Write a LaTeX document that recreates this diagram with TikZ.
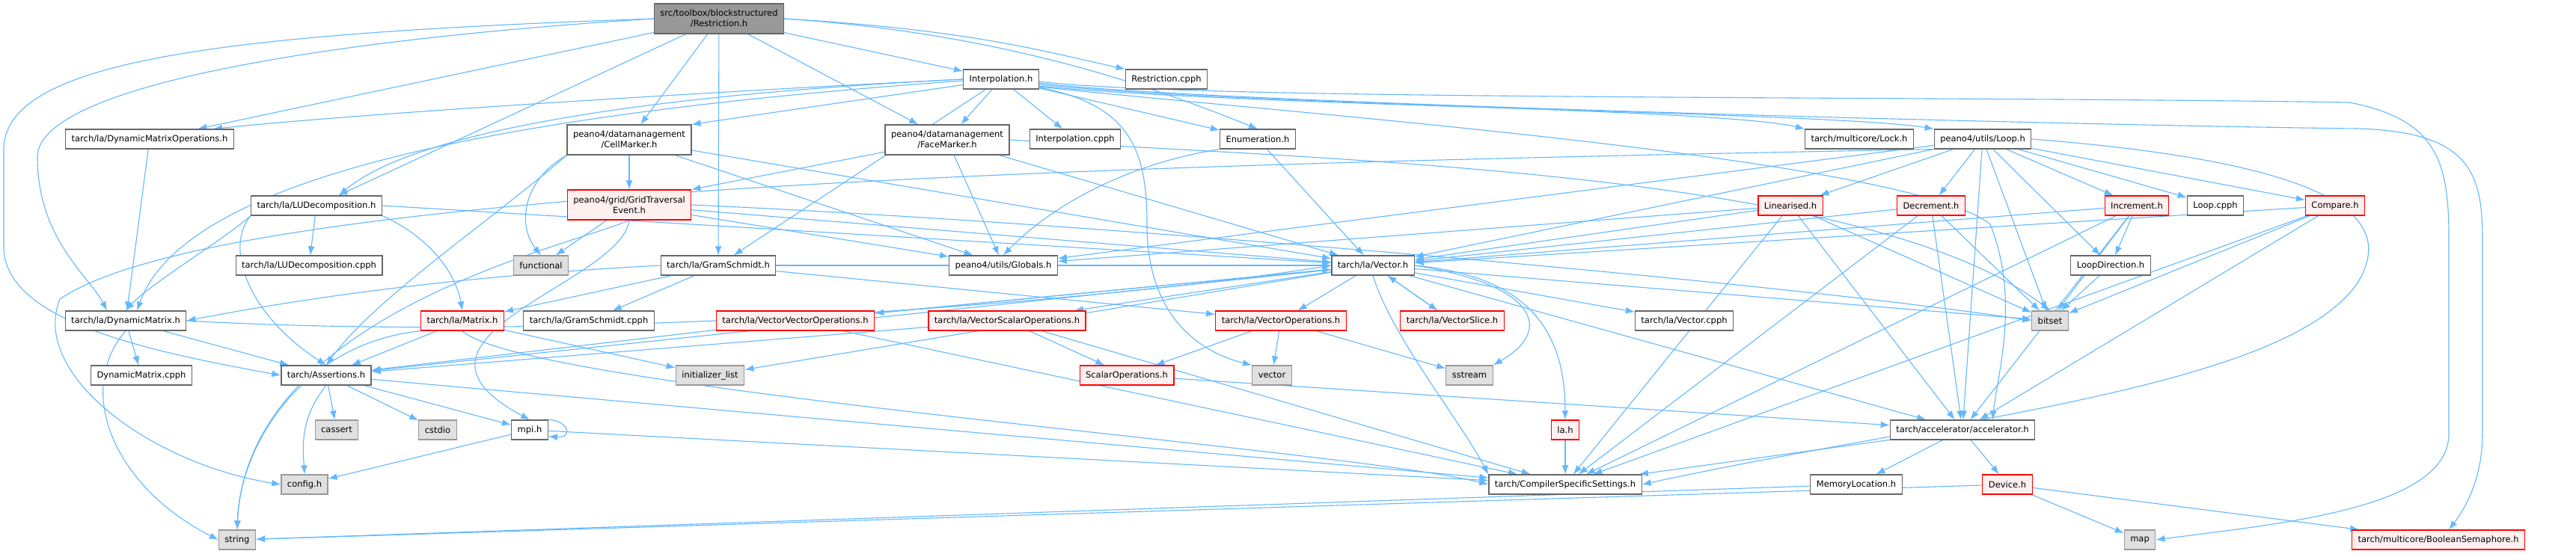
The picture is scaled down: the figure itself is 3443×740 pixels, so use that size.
\documentclass[tikz,border=0pt]{standalone}
\usepackage{fontspec}
\setmainfont{DejaVu Sans}
\usetikzlibrary{arrows.meta,calc}
\definecolor{edgeblue}{HTML}{63B8FF}
\definecolor{nodegray}{HTML}{666666}
\definecolor{redfill}{HTML}{FFF0F0}
\definecolor{sysfill}{HTML}{E0E0E0}
\definecolor{sysdraw}{HTML}{999999}
\definecolor{rootfill}{HTML}{999999}
\pgfdeclarelayer{back}\pgfdeclarelayer{bg}\pgfsetlayers{back,bg,main}
\begin{document}
\begin{tikzpicture}[x=1pt,y=-1pt,
 box/.style={draw=nodegray, fill=white, rectangle, line width=1.2pt, minimum height=26pt, inner xsep=8pt, inner ysep=0pt, font=\fontsize{11.5}{14}\selectfont, align=center},
 hbox/.style={box, draw=red, fill=redfill},
 sbox/.style={box, draw=sysdraw, fill=sysfill},
 tbox/.style={box, minimum height=40pt},
 e/.style={draw=edgeblue, line width=1.1pt, -{Latex[length=12pt,width=9pt]}}
]
\useasboundingbox (0,0) rectangle (3443,740);
\begin{pgfonlayer}{back}
\fill[white] (0,0) rectangle (3443,740);
\end{pgfonlayer}
% nodes
\node[tbox, fill=rootfill] (root) at (961,25) {src/toolbox/blockstructured\\/Restriction.h};
\node[box] (interp) at (1338,106) {Interpolation.h};
\node[box] (rcpph) at (1559,106) {Restriction.cpph};
\node[box] (dmo) at (200,186) {tarch/la/DynamicMatrixOperations.h};
\node[tbox] (cell) at (841,187) {peano4/datamanagement\\/CellMarker.h};
\node[tbox] (face) at (1266,187) {peano4/datamanagement\\/FaceMarker.h};
\node[box] (icpph) at (1437,186) {Interpolation.cpph};
\node[box] (enum) at (1681,186) {Enumeration.h};
\node[box] (lock) at (2485,186) {tarch/multicore/Lock.h};
\node[box] (loop) at (2650,186) {peano4/utils/Loop.h};
\node[box] (lud) at (423,275) {tarch/la/LUDecomposition.h};
\node[tbox, draw=red, fill=redfill] (gte) at (841,274) {peano4/grid/GridTraversal\\Event.h};
\node[hbox] (lin) at (2393,275) {Linearised.h};
\node[hbox] (dec) at (2581,275) {Decrement.h};
\node[hbox] (inc) at (2856,275) {Increment.h};
\node[box] (lcpph) at (2961,275) {Loop.cpph};
\node[hbox] (cmp) at (3121,275) {Compare.h};
\node[box] (ludc) at (413,355) {tarch/la/LUDecomposition.cpph};
\node[sbox] (func) at (723,355) {functional};
\node[box] (gs) at (960,355) {tarch/la/GramSchmidt.h};
\node[box] (glob) at (1341,355) {peano4/utils/Globals.h};
\node[box] (vec) at (1835,355) {tarch/la/Vector.h};
\node[box] (ldir) at (2821,355) {LoopDirection.h};
\node[box] (dm) at (168,429) {tarch/la/DynamicMatrix.h};
\node[hbox] (mat) at (618,429) {tarch/la/Matrix.h};
\node[box] (gsc) at (787,429) {tarch/la/GramSchmidt.cpph};
\node[hbox] (vvo) at (1063,429) {tarch/la/VectorVectorOperations.h};
\node[hbox] (vso) at (1346,429) {tarch/la/VectorScalarOperations.h};
\node[hbox] (vo) at (1712,429) {tarch/la/VectorOperations.h};
\node[hbox] (vsl) at (1941,429) {tarch/la/VectorSlice.h};
\node[box] (vcpph) at (2251,429) {tarch/la/Vector.cpph};
\node[sbox] (bitset) at (2740,429) {bitset};
\node[box] (dmc) at (189,502) {DynamicMatrix.cpph};
\node[box] (assert) at (436,502) {tarch/Assertions.h};
\node[sbox] (init) at (949,502) {initializer\_list};
\node[hbox] (sops) at (1506,502) {ScalarOperations.h};
\node[sbox] (vector) at (1700,502) {vector};
\node[sbox] (sstream) at (1964,502) {sstream};
\node[sbox] (cassert) at (450,575) {cassert};
\node[sbox] (cstdio) at (585,575) {cstdio};
\node[box] (mpi) at (708,575) {mpi.h};
\node[hbox] (la) at (2092,575) {la.h};
\node[box] (acc) at (2623,575) {tarch/accelerator/accelerator.h};
\node[sbox] (config) at (407,648) {config.h};
\node[box] (css) at (2092,648) {tarch/CompilerSpecificSettings.h};
\node[box] (memloc) at (2481,648) {MemoryLocation.h};
\node[hbox] (dev) at (2683,648) {Device.h};
\node[sbox] (string) at (317,722) {string};
\node[sbox] (map) at (2860,722) {map};
\node[hbox] (bsem) at (3259,722) {tarch/multicore/BooleanSemaphore.h};
\begin{pgfonlayer}{bg}
% root
\draw[e] (root) -- (interp);
\draw[e] (root.east) .. controls (1300,40) and (1400,70) .. (rcpph.north west);
\draw[e] (root.east) .. controls (1350,45) and (1550,120) .. (enum.north);
\draw[e] (root) -- (face);
\draw[e] (root) -- (cell);
\draw[e] (root) -- (gs);
\draw[e] (root) -- (lud);
\draw[e] (root) -- (dmo);
\draw[e] (root.west) .. controls (400,55) and (50,120) .. (50,210) .. controls (50,320) and (120,370) .. ($(dm.north)+(-25,0)$);
\draw[e] (root.west) .. controls (300,45) and (5,80) .. (5,200) -- (5,330) .. controls (5,430) and (200,470) .. (assert.west);
% interp
\draw[e] (interp.west) .. controls (1000,120) and (500,150) .. ($(dmo.north)+(85,0)$);
\draw[e] (interp.west) .. controls (900,125) and (560,170) .. ($(lud.north)+(30,0)$);
\draw[e] (interp) -- (cell.north east);
\draw[e] (interp) -- (face);
\draw[e] (interp) -- (icpph);
\draw[e] (interp) -- (enum);
\draw[e] (interp) -- (gs);
\draw[e] ([yshift=-7pt]interp.east) .. controls (1650,140) and (2300,145) .. (lock.north west);
\draw[e] ([yshift=-9pt]interp.east) .. controls (1650,142) and (2450,150) .. (loop.north west);
\draw[e] ([yshift=-2pt]interp.west) .. controls (700,150) and (250,230) .. ($(dm.north)+(15,0)$);
\draw[e] ([yshift=-11pt]interp.east) .. controls (1510,140) and (1533,200) .. (1533,300) .. controls (1533,420) and (1600,470) .. (vector.north west);
\draw[e] ([yshift=-3pt]interp.east) .. controls (1600,135) and (2600,128) .. (3140,137) .. controls (3260,160) and (3273,220) .. (3273,320) -- (3273,580) .. controls (3273,680) and (3050,700) .. (map.east);
\draw[e] ([yshift=-5pt]interp.east) .. controls (1600,138) and (2800,168) .. (3150,172) .. controls (3300,176) and (3318,230) .. (3318,320) -- (3318,580) .. controls (3318,640) and (3295,680) .. ($(bsem.north)+(14,0)$);
\draw[e] ([yshift=-10pt]interp.east) .. controls (1700,150) and (2550,210) .. (2660,300) .. controls (2700,400) and (2670,500) .. ($(acc.north)+(40,0)$);
% cell
\draw[e] (cell) -- (gte);
\draw[e] (cell.south west) .. controls (700,240) and (690,300) .. (func.north);
\draw[e] (cell) -- (vec);
\draw[e] (cell) -- (glob);
\draw[e] (cell.south west) .. controls (650,300) and (500,400) .. (assert.north);
% face
\draw[e] (face) -- (gte.north east);
\draw[e] (face) -- (glob);
\draw[e] (face) -- (vec);
\draw[e] (face.east) .. controls (1800,215) and (2500,230) .. (bitset.north);
% gte
\draw[e] (gte) -- (func);
\draw[e] (gte) -- (vec);
\draw[e] (gte) -- (glob);
\draw[e] (gte.east) .. controls (1500,300) and (2400,380) .. (bitset.west);
\draw[e] (gte.south) .. controls (830,380) and (500,450) .. (mpi.north);
\draw[e] (gte.south) .. controls (760,330) and (330,420) .. (string.north);
% enum
\draw[e] (enum.south west) .. controls (1500,220) and (1400,280) .. (glob.north);
\draw[e] (enum) -- (vec);
% lud
\draw[e] (lud) -- (ludc);
\draw[e] (lud.south east) .. controls (580,320) and (610,370) .. (mat.north);
\draw[e] (lud.south west) .. controls (300,320) and (200,380) .. (dm.north);
\draw[e] (lud.east) -- (vec);
\draw[e] (lud.south west) .. controls (300,330) and (330,420) .. (assert.north);
% gs
\draw[e] (gs) -- (gsc);
\draw[e] (gs) -- (mat);
\draw[e] (gs.west) .. controls (600,370) and (400,400) .. (dm.east);
\draw[e] (gs) -- (vec);
\draw[e] (gs) -- (vo);
% dmo
\draw[e] (dmo) -- (dm);
% dm
\draw[e] (dm) -- (dmc);
\draw[e] (dm) -- (assert);
\draw[e] (dm.south) .. controls (100,520) and (150,650) .. (string.west);
\draw[e] (dm.east) .. controls (800,460) and (1500,400) .. (vec.west);
% mat
\draw[e] (mat) -- (init);
\draw[e] (mat.south) .. controls (700,520) and (1800,600) .. (css.west);
\draw[e] (mat.south west) .. controls (400,460) and (320,600) .. (string.north);
\draw[e] (mat) -- (assert);
% vec
\draw[e] (vec) -- (vo);
\draw[e] (vec) -- (vso);
\draw[e] (vec) -- (vvo);
\draw[e] (vec) -- (vsl);
\draw[e] (vec) -- (vcpph);
\draw[e] (vec.east) .. controls (2050,380) and (2080,440) .. (sstream.north east);
\draw[e] (vec.east) .. controls (2050,370) and (2092,450) .. (la.north);
\draw[e] (vec.south) .. controls (1860,450) and (1950,560) .. (css.north west);
\draw[e] (vec) -- (bitset);
\draw[e] (vec) -- (init);
\draw[e] (vec) -- (assert);
\draw[e] (vec) -- (acc);
% vector ops
\draw[e] (vvo) -- (vec);
\draw[e] (vvo) -- (css);
\draw[e] (vvo) -- (assert);
\draw[e] (vso) -- (sops);
\draw[e] (vso) -- (css);
\draw[e] (vso) -- (assert);
\draw[e] (vo) -- (sops);
\draw[e] (vo) -- (vector);
\draw[e] (vo) -- (sstream);
\draw[e] (vsl) -- (vec);
\draw[e] (sops) -- (acc);
\draw[e] (la) -- (css);
% assertions
\draw[e] (assert) -- (cassert);
\draw[e] (assert) -- (cstdio);
\draw[e] (assert.south) .. controls (400,560) and (405,600) .. (config.north);
\draw[e] (assert) -- (mpi);
\draw[e] (assert) -- (css);
% mpi
\draw[e] ([xshift=-8pt]mpi.north east) .. controls +(35,-3) and +(35,3) .. ([yshift=5pt]mpi.south east);
\draw[e] (mpi) -- (config);
\draw[e] (mpi) -- (css);
% accelerator
\draw[e] (acc) -- (memloc);
\draw[e] (acc) -- (dev);
\draw[e] (acc) -- (css);
\draw[e] (memloc) -- (string);
\draw[e] (dev) -- (string);
\draw[e] (dev) -- (map);
\draw[e] (dev) -- (bsem);
% loop
\draw[e] (loop) -- (lin);
\draw[e] (loop) -- (dec);
\draw[e] (loop) -- (inc);
\draw[e] (loop) -- (lcpph);
\draw[e] (loop) -- (cmp);
\draw[e] (loop) -- (ldir);
\draw[e] (loop) -- (vec);
\draw[e] (loop) -- (glob);
\draw[e] (loop) -- (bitset);
\draw[e] (loop) -- (acc);
\draw[e] (loop.east) .. controls (3150,220) and (3200,300) .. (3150,380) .. controls (3050,520) and (2600,560) .. (css.east);
\draw[e] (loop.south west) .. controls (1500,220) and (300,250) .. (80,400) .. controls (40,500) and (200,620) .. (config.west);
% linearised etc
\draw[e] (lin) -- (vec);
\draw[e] (lin) -- (glob);
\draw[e] (lin) -- (bitset);
\draw[e] (lin) -- (acc);
\draw[e] (lin) -- (css);
\draw[e] (dec) -- (vec);
\draw[e] (dec) -- (bitset);
\draw[e] (dec) -- (acc);
\draw[e] (dec) -- (css);
\draw[e] (inc) -- (vec);
\draw[e] (inc) -- (ldir);
\draw[e] (inc) -- (bitset);
\draw[e] (inc) -- (acc);
\draw[e] (inc) -- (css);
\draw[e] (cmp) -- (vec);
\draw[e] (cmp) -- (bitset);
\draw[e] (cmp) -- (acc);
\draw[e] (cmp) -- (css);
\draw[e] (ldir) -- (bitset);
\end{pgfonlayer}
\end{tikzpicture}
\end{document}
